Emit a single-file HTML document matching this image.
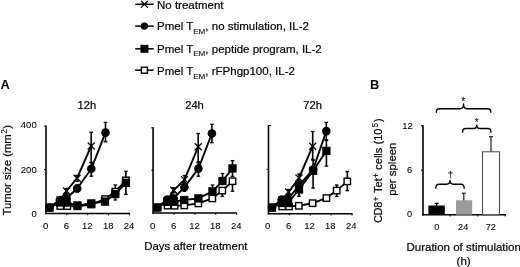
<!DOCTYPE html>
<html><head><meta charset="utf-8"><title>Figure</title>
<style>html,body{margin:0;padding:0;background:#fff}svg{display:block;filter:blur(0.4px)}</style></head>
<body>
<svg width="520" height="267" viewBox="0 0 520 267" font-family='"Liberation Sans", Arial, sans-serif' fill="#000">
<style>text{stroke:#000;stroke-width:0.2px}tspan[font-size]{stroke-width:0.08px}.s{stroke-width:0.08px}.b{stroke-width:0}</style>
<rect width="520" height="267" fill="#fff"/>
<line x1="135.20" y1="4.30" x2="153.70" y2="4.30" stroke="#000" stroke-width="1.5" stroke-linecap="butt"/>
<line x1="135.20" y1="26.10" x2="153.70" y2="26.10" stroke="#000" stroke-width="1.5" stroke-linecap="butt"/>
<line x1="135.20" y1="48.80" x2="153.70" y2="48.80" stroke="#000" stroke-width="1.5" stroke-linecap="butt"/>
<line x1="135.20" y1="70.20" x2="153.70" y2="70.20" stroke="#000" stroke-width="1.5" stroke-linecap="butt"/>
<line x1="141.10" y1="1.00" x2="147.70" y2="7.60" stroke="#000" stroke-width="1.25" stroke-linecap="butt"/>
<line x1="141.10" y1="7.60" x2="147.70" y2="1.00" stroke="#000" stroke-width="1.25" stroke-linecap="butt"/>
<line x1="141.10" y1="4.30" x2="147.70" y2="4.30" stroke="#000" stroke-width="1.25" stroke-linecap="butt"/>
<circle cx="144.40" cy="26.10" r="3.7" fill="#000"/>
<rect x="140.40" y="44.80" width="8.0" height="8.0" fill="#000"/>
<rect x="141.40" y="67.20" width="6.0" height="6.0" fill="#fff" stroke="#000" stroke-width="1.4"/>
<text x="157.00" y="8.50" font-size="11.5" text-anchor="start" font-weight="normal" >No treatment</text>
<text x="157.00" y="30.30" font-size="11.5" text-anchor="start" font-weight="normal" >Pmel T<tspan font-size="8.1" dy="3.9">EM</tspan><tspan dy="-3.9">, no stimulation, IL-2</tspan></text>
<text x="157.00" y="52.50" font-size="11.5" text-anchor="start" font-weight="normal" >Pmel T<tspan font-size="8.1" dy="3.9">EM</tspan><tspan dy="-3.9">, peptide program, IL-2</tspan></text>
<text x="157.00" y="74.90" font-size="11.5" text-anchor="start" font-weight="normal" >Pmel T<tspan font-size="8.1" dy="3.9">EM</tspan><tspan dy="-3.9">, rFPhgp100, IL-2</tspan></text>
<text x="0.50" y="88.90" font-size="12.9" text-anchor="start" font-weight="bold"  class="b">A</text>
<text x="370.00" y="88.90" font-size="12.9" text-anchor="start" font-weight="bold"  class="b">B</text>
<line x1="46.00" y1="125.60" x2="46.00" y2="214.30" stroke="#000" stroke-width="1.6" stroke-linecap="butt"/>
<line x1="45.20" y1="213.50" x2="130.00" y2="213.50" stroke="#000" stroke-width="1.6" stroke-linecap="butt"/>
<line x1="44.10" y1="169.55" x2="46.00" y2="169.55" stroke="#000" stroke-width="1.0" stroke-linecap="butt"/>
<line x1="44.10" y1="126.10" x2="46.00" y2="126.10" stroke="#000" stroke-width="1.0" stroke-linecap="butt"/>
<line x1="66.88" y1="213.50" x2="66.88" y2="215.30" stroke="#000" stroke-width="1.0" stroke-linecap="butt"/>
<line x1="87.75" y1="213.50" x2="87.75" y2="215.30" stroke="#000" stroke-width="1.0" stroke-linecap="butt"/>
<line x1="108.62" y1="213.50" x2="108.62" y2="215.30" stroke="#000" stroke-width="1.0" stroke-linecap="butt"/>
<line x1="129.50" y1="213.50" x2="129.50" y2="215.30" stroke="#000" stroke-width="1.0" stroke-linecap="butt"/>
<text x="45.60" y="228.70" font-size="9.5" text-anchor="middle" font-weight="normal"  class="s">0</text>
<text x="66.47" y="228.70" font-size="9.5" text-anchor="middle" font-weight="normal"  class="s">6</text>
<text x="87.35" y="228.70" font-size="9.5" text-anchor="middle" font-weight="normal"  class="s">12</text>
<text x="108.22" y="228.70" font-size="9.5" text-anchor="middle" font-weight="normal"  class="s">18</text>
<text x="129.10" y="228.70" font-size="9.5" text-anchor="middle" font-weight="normal"  class="s">24</text>
<text x="86.90" y="109.30" font-size="11.2" text-anchor="middle" font-weight="normal" >12h</text>
<polyline points="60.30,206.10 67.30,206.10 77.40,206.30 91.30,204.50 105.00,199.10 115.30,191.60 125.90,180.40" fill="none" stroke="#000" stroke-width="1.9" stroke-linejoin="round"/>
<polyline points="49.60,207.60 60.00,202.50 66.50,202.60 77.40,205.40 91.30,203.40 105.00,201.60 115.30,194.00 125.90,182.80" fill="none" stroke="#000" stroke-width="1.9" stroke-linejoin="round"/>
<polyline points="49.50,207.50 60.00,200.00 66.50,191.00 77.10,178.20 91.20,146.00" fill="none" stroke="#000" stroke-width="1.9" stroke-linejoin="round"/>
<polyline points="49.50,207.50 60.00,200.00 66.50,198.30 77.20,188.50 91.30,168.80 105.50,132.60" fill="none" stroke="#000" stroke-width="1.9" stroke-linejoin="round"/>
<line x1="115.30" y1="185.00" x2="115.30" y2="200.00" stroke="#000" stroke-width="1.6" stroke-linecap="butt"/>
<line x1="113.50" y1="185.00" x2="117.10" y2="185.00" stroke="#000" stroke-width="1.3" stroke-linecap="butt"/>
<line x1="113.50" y1="200.00" x2="117.10" y2="200.00" stroke="#000" stroke-width="1.3" stroke-linecap="butt"/>
<line x1="125.90" y1="171.30" x2="125.90" y2="194.40" stroke="#000" stroke-width="1.6" stroke-linecap="butt"/>
<line x1="124.10" y1="171.30" x2="127.70" y2="171.30" stroke="#000" stroke-width="1.3" stroke-linecap="butt"/>
<line x1="124.10" y1="194.40" x2="127.70" y2="194.40" stroke="#000" stroke-width="1.3" stroke-linecap="butt"/>
<line x1="66.50" y1="188.50" x2="66.50" y2="193.50" stroke="#000" stroke-width="1.6" stroke-linecap="butt"/>
<line x1="64.70" y1="188.50" x2="68.30" y2="188.50" stroke="#000" stroke-width="1.3" stroke-linecap="butt"/>
<line x1="64.70" y1="193.50" x2="68.30" y2="193.50" stroke="#000" stroke-width="1.3" stroke-linecap="butt"/>
<line x1="77.10" y1="175.40" x2="77.10" y2="181.20" stroke="#000" stroke-width="1.6" stroke-linecap="butt"/>
<line x1="75.30" y1="175.40" x2="78.90" y2="175.40" stroke="#000" stroke-width="1.3" stroke-linecap="butt"/>
<line x1="75.30" y1="181.20" x2="78.90" y2="181.20" stroke="#000" stroke-width="1.3" stroke-linecap="butt"/>
<line x1="91.20" y1="132.20" x2="91.20" y2="162.50" stroke="#000" stroke-width="1.6" stroke-linecap="butt"/>
<line x1="89.40" y1="132.20" x2="93.00" y2="132.20" stroke="#000" stroke-width="1.3" stroke-linecap="butt"/>
<line x1="89.40" y1="162.50" x2="93.00" y2="162.50" stroke="#000" stroke-width="1.3" stroke-linecap="butt"/>
<line x1="66.50" y1="195.30" x2="66.50" y2="201.30" stroke="#000" stroke-width="1.6" stroke-linecap="butt"/>
<line x1="64.70" y1="195.30" x2="68.30" y2="195.30" stroke="#000" stroke-width="1.3" stroke-linecap="butt"/>
<line x1="64.70" y1="201.30" x2="68.30" y2="201.30" stroke="#000" stroke-width="1.3" stroke-linecap="butt"/>
<line x1="77.20" y1="185.00" x2="77.20" y2="192.00" stroke="#000" stroke-width="1.6" stroke-linecap="butt"/>
<line x1="75.40" y1="185.00" x2="79.00" y2="185.00" stroke="#000" stroke-width="1.3" stroke-linecap="butt"/>
<line x1="75.40" y1="192.00" x2="79.00" y2="192.00" stroke="#000" stroke-width="1.3" stroke-linecap="butt"/>
<line x1="91.30" y1="162.50" x2="91.30" y2="176.20" stroke="#000" stroke-width="1.6" stroke-linecap="butt"/>
<line x1="89.50" y1="162.50" x2="93.10" y2="162.50" stroke="#000" stroke-width="1.3" stroke-linecap="butt"/>
<line x1="89.50" y1="176.20" x2="93.10" y2="176.20" stroke="#000" stroke-width="1.3" stroke-linecap="butt"/>
<line x1="105.50" y1="122.40" x2="105.50" y2="141.80" stroke="#000" stroke-width="1.6" stroke-linecap="butt"/>
<line x1="103.70" y1="122.40" x2="107.30" y2="122.40" stroke="#000" stroke-width="1.3" stroke-linecap="butt"/>
<line x1="103.70" y1="141.80" x2="107.30" y2="141.80" stroke="#000" stroke-width="1.3" stroke-linecap="butt"/>
<rect x="57.10" y="202.90" width="6.4" height="6.4" fill="#fff" stroke="#000" stroke-width="1.4"/>
<rect x="64.10" y="202.90" width="6.4" height="6.4" fill="#fff" stroke="#000" stroke-width="1.4"/>
<rect x="74.20" y="203.10" width="6.4" height="6.4" fill="#fff" stroke="#000" stroke-width="1.4"/>
<rect x="88.10" y="201.30" width="6.4" height="6.4" fill="#fff" stroke="#000" stroke-width="1.4"/>
<rect x="101.80" y="195.90" width="6.4" height="6.4" fill="#fff" stroke="#000" stroke-width="1.4"/>
<rect x="112.10" y="188.40" width="6.4" height="6.4" fill="#fff" stroke="#000" stroke-width="1.4"/>
<rect x="122.70" y="177.20" width="6.4" height="6.4" fill="#fff" stroke="#000" stroke-width="1.4"/>
<rect x="45.45" y="203.45" width="8.3" height="8.3" fill="#000"/>
<rect x="55.85" y="198.35" width="8.3" height="8.3" fill="#000"/>
<rect x="62.35" y="198.45" width="8.3" height="8.3" fill="#000"/>
<rect x="73.25" y="201.25" width="8.3" height="8.3" fill="#000"/>
<rect x="87.15" y="199.25" width="8.3" height="8.3" fill="#000"/>
<rect x="100.85" y="197.45" width="8.3" height="8.3" fill="#000"/>
<rect x="111.15" y="189.85" width="8.3" height="8.3" fill="#000"/>
<rect x="121.75" y="178.65" width="8.3" height="8.3" fill="#000"/>
<line x1="46.00" y1="204.00" x2="53.00" y2="211.00" stroke="#000" stroke-width="1.3" stroke-linecap="butt"/>
<line x1="46.00" y1="211.00" x2="53.00" y2="204.00" stroke="#000" stroke-width="1.3" stroke-linecap="butt"/>
<line x1="56.50" y1="196.50" x2="63.50" y2="203.50" stroke="#000" stroke-width="1.3" stroke-linecap="butt"/>
<line x1="56.50" y1="203.50" x2="63.50" y2="196.50" stroke="#000" stroke-width="1.3" stroke-linecap="butt"/>
<line x1="63.00" y1="187.50" x2="70.00" y2="194.50" stroke="#000" stroke-width="1.3" stroke-linecap="butt"/>
<line x1="63.00" y1="194.50" x2="70.00" y2="187.50" stroke="#000" stroke-width="1.3" stroke-linecap="butt"/>
<line x1="73.60" y1="174.70" x2="80.60" y2="181.70" stroke="#000" stroke-width="1.3" stroke-linecap="butt"/>
<line x1="73.60" y1="181.70" x2="80.60" y2="174.70" stroke="#000" stroke-width="1.3" stroke-linecap="butt"/>
<line x1="87.70" y1="142.50" x2="94.70" y2="149.50" stroke="#000" stroke-width="1.3" stroke-linecap="butt"/>
<line x1="87.70" y1="149.50" x2="94.70" y2="142.50" stroke="#000" stroke-width="1.3" stroke-linecap="butt"/>
<circle cx="49.50" cy="207.50" r="4.3" fill="#000"/>
<circle cx="60.00" cy="200.00" r="4.3" fill="#000"/>
<circle cx="66.50" cy="198.30" r="4.3" fill="#000"/>
<circle cx="77.20" cy="188.50" r="4.3" fill="#000"/>
<circle cx="91.30" cy="168.80" r="4.3" fill="#000"/>
<circle cx="105.50" cy="132.60" r="4.3" fill="#000"/>
<line x1="153.10" y1="127.30" x2="153.10" y2="213.80" stroke="#000" stroke-width="1.6" stroke-linecap="butt"/>
<line x1="152.30" y1="213.00" x2="237.10" y2="213.00" stroke="#000" stroke-width="1.6" stroke-linecap="butt"/>
<line x1="151.20" y1="170.15" x2="153.10" y2="170.15" stroke="#000" stroke-width="1.0" stroke-linecap="butt"/>
<line x1="151.20" y1="127.80" x2="153.10" y2="127.80" stroke="#000" stroke-width="1.0" stroke-linecap="butt"/>
<line x1="173.97" y1="213.00" x2="173.97" y2="214.80" stroke="#000" stroke-width="1.0" stroke-linecap="butt"/>
<line x1="194.85" y1="213.00" x2="194.85" y2="214.80" stroke="#000" stroke-width="1.0" stroke-linecap="butt"/>
<line x1="215.72" y1="213.00" x2="215.72" y2="214.80" stroke="#000" stroke-width="1.0" stroke-linecap="butt"/>
<line x1="236.60" y1="213.00" x2="236.60" y2="214.80" stroke="#000" stroke-width="1.0" stroke-linecap="butt"/>
<text x="152.70" y="228.70" font-size="9.5" text-anchor="middle" font-weight="normal"  class="s">0</text>
<text x="173.57" y="228.70" font-size="9.5" text-anchor="middle" font-weight="normal"  class="s">6</text>
<text x="194.45" y="228.70" font-size="9.5" text-anchor="middle" font-weight="normal"  class="s">12</text>
<text x="215.32" y="228.70" font-size="9.5" text-anchor="middle" font-weight="normal"  class="s">18</text>
<text x="236.20" y="228.70" font-size="9.5" text-anchor="middle" font-weight="normal"  class="s">24</text>
<text x="194.50" y="109.30" font-size="11.2" text-anchor="middle" font-weight="normal" >24h</text>
<polyline points="167.60,205.60 174.60,205.70 184.30,205.40 198.30,203.40 212.30,198.40 222.30,190.60 232.50,181.20" fill="none" stroke="#000" stroke-width="1.9" stroke-linejoin="round"/>
<polyline points="157.30,207.50 167.30,201.80 173.60,201.80 184.20,200.00 198.40,198.40 212.50,191.30 222.50,181.00 232.50,168.40" fill="none" stroke="#000" stroke-width="1.9" stroke-linejoin="round"/>
<polyline points="157.30,207.50 167.30,200.50 173.80,190.30 184.50,179.60 198.20,146.80" fill="none" stroke="#000" stroke-width="1.9" stroke-linejoin="round"/>
<polyline points="157.30,207.50 167.30,199.60 173.60,198.30 184.40,187.30 198.40,168.60 211.90,133.50" fill="none" stroke="#000" stroke-width="1.9" stroke-linejoin="round"/>
<line x1="222.30" y1="190.60" x2="222.30" y2="196.20" stroke="#000" stroke-width="1.6" stroke-linecap="butt"/>
<line x1="220.50" y1="190.60" x2="224.10" y2="190.60" stroke="#000" stroke-width="1.3" stroke-linecap="butt"/>
<line x1="220.50" y1="196.20" x2="224.10" y2="196.20" stroke="#000" stroke-width="1.3" stroke-linecap="butt"/>
<line x1="232.50" y1="181.20" x2="232.50" y2="191.20" stroke="#000" stroke-width="1.6" stroke-linecap="butt"/>
<line x1="230.70" y1="181.20" x2="234.30" y2="181.20" stroke="#000" stroke-width="1.3" stroke-linecap="butt"/>
<line x1="230.70" y1="191.20" x2="234.30" y2="191.20" stroke="#000" stroke-width="1.3" stroke-linecap="butt"/>
<line x1="212.50" y1="185.00" x2="212.50" y2="191.30" stroke="#000" stroke-width="1.6" stroke-linecap="butt"/>
<line x1="210.70" y1="185.00" x2="214.30" y2="185.00" stroke="#000" stroke-width="1.3" stroke-linecap="butt"/>
<line x1="210.70" y1="191.30" x2="214.30" y2="191.30" stroke="#000" stroke-width="1.3" stroke-linecap="butt"/>
<line x1="222.50" y1="173.50" x2="222.50" y2="181.00" stroke="#000" stroke-width="1.6" stroke-linecap="butt"/>
<line x1="220.70" y1="173.50" x2="224.30" y2="173.50" stroke="#000" stroke-width="1.3" stroke-linecap="butt"/>
<line x1="220.70" y1="181.00" x2="224.30" y2="181.00" stroke="#000" stroke-width="1.3" stroke-linecap="butt"/>
<line x1="232.50" y1="160.60" x2="232.50" y2="176.40" stroke="#000" stroke-width="1.6" stroke-linecap="butt"/>
<line x1="230.70" y1="160.60" x2="234.30" y2="160.60" stroke="#000" stroke-width="1.3" stroke-linecap="butt"/>
<line x1="230.70" y1="176.40" x2="234.30" y2="176.40" stroke="#000" stroke-width="1.3" stroke-linecap="butt"/>
<line x1="173.80" y1="187.80" x2="173.80" y2="192.80" stroke="#000" stroke-width="1.6" stroke-linecap="butt"/>
<line x1="172.00" y1="187.80" x2="175.60" y2="187.80" stroke="#000" stroke-width="1.3" stroke-linecap="butt"/>
<line x1="172.00" y1="192.80" x2="175.60" y2="192.80" stroke="#000" stroke-width="1.3" stroke-linecap="butt"/>
<line x1="184.50" y1="175.60" x2="184.50" y2="182.60" stroke="#000" stroke-width="1.6" stroke-linecap="butt"/>
<line x1="182.70" y1="175.60" x2="186.30" y2="175.60" stroke="#000" stroke-width="1.3" stroke-linecap="butt"/>
<line x1="182.70" y1="182.60" x2="186.30" y2="182.60" stroke="#000" stroke-width="1.3" stroke-linecap="butt"/>
<line x1="198.20" y1="133.50" x2="198.20" y2="162.80" stroke="#000" stroke-width="1.6" stroke-linecap="butt"/>
<line x1="196.40" y1="133.50" x2="200.00" y2="133.50" stroke="#000" stroke-width="1.3" stroke-linecap="butt"/>
<line x1="196.40" y1="162.80" x2="200.00" y2="162.80" stroke="#000" stroke-width="1.3" stroke-linecap="butt"/>
<line x1="184.40" y1="183.30" x2="184.40" y2="191.30" stroke="#000" stroke-width="1.6" stroke-linecap="butt"/>
<line x1="182.60" y1="183.30" x2="186.20" y2="183.30" stroke="#000" stroke-width="1.3" stroke-linecap="butt"/>
<line x1="182.60" y1="191.30" x2="186.20" y2="191.30" stroke="#000" stroke-width="1.3" stroke-linecap="butt"/>
<line x1="198.40" y1="161.60" x2="198.40" y2="176.20" stroke="#000" stroke-width="1.6" stroke-linecap="butt"/>
<line x1="196.60" y1="161.60" x2="200.20" y2="161.60" stroke="#000" stroke-width="1.3" stroke-linecap="butt"/>
<line x1="196.60" y1="176.20" x2="200.20" y2="176.20" stroke="#000" stroke-width="1.3" stroke-linecap="butt"/>
<line x1="211.90" y1="124.30" x2="211.90" y2="142.70" stroke="#000" stroke-width="1.6" stroke-linecap="butt"/>
<line x1="210.10" y1="124.30" x2="213.70" y2="124.30" stroke="#000" stroke-width="1.3" stroke-linecap="butt"/>
<line x1="210.10" y1="142.70" x2="213.70" y2="142.70" stroke="#000" stroke-width="1.3" stroke-linecap="butt"/>
<rect x="164.40" y="202.40" width="6.4" height="6.4" fill="#fff" stroke="#000" stroke-width="1.4"/>
<rect x="171.40" y="202.50" width="6.4" height="6.4" fill="#fff" stroke="#000" stroke-width="1.4"/>
<rect x="181.10" y="202.20" width="6.4" height="6.4" fill="#fff" stroke="#000" stroke-width="1.4"/>
<rect x="195.10" y="200.20" width="6.4" height="6.4" fill="#fff" stroke="#000" stroke-width="1.4"/>
<rect x="209.10" y="195.20" width="6.4" height="6.4" fill="#fff" stroke="#000" stroke-width="1.4"/>
<rect x="219.10" y="187.40" width="6.4" height="6.4" fill="#fff" stroke="#000" stroke-width="1.4"/>
<rect x="229.30" y="178.00" width="6.4" height="6.4" fill="#fff" stroke="#000" stroke-width="1.4"/>
<rect x="153.15" y="203.35" width="8.3" height="8.3" fill="#000"/>
<rect x="163.15" y="197.65" width="8.3" height="8.3" fill="#000"/>
<rect x="169.45" y="197.65" width="8.3" height="8.3" fill="#000"/>
<rect x="180.05" y="195.85" width="8.3" height="8.3" fill="#000"/>
<rect x="194.25" y="194.25" width="8.3" height="8.3" fill="#000"/>
<rect x="208.35" y="187.15" width="8.3" height="8.3" fill="#000"/>
<rect x="218.35" y="176.85" width="8.3" height="8.3" fill="#000"/>
<rect x="228.35" y="164.25" width="8.3" height="8.3" fill="#000"/>
<line x1="153.80" y1="204.00" x2="160.80" y2="211.00" stroke="#000" stroke-width="1.3" stroke-linecap="butt"/>
<line x1="153.80" y1="211.00" x2="160.80" y2="204.00" stroke="#000" stroke-width="1.3" stroke-linecap="butt"/>
<line x1="163.80" y1="197.00" x2="170.80" y2="204.00" stroke="#000" stroke-width="1.3" stroke-linecap="butt"/>
<line x1="163.80" y1="204.00" x2="170.80" y2="197.00" stroke="#000" stroke-width="1.3" stroke-linecap="butt"/>
<line x1="170.30" y1="186.80" x2="177.30" y2="193.80" stroke="#000" stroke-width="1.3" stroke-linecap="butt"/>
<line x1="170.30" y1="193.80" x2="177.30" y2="186.80" stroke="#000" stroke-width="1.3" stroke-linecap="butt"/>
<line x1="181.00" y1="176.10" x2="188.00" y2="183.10" stroke="#000" stroke-width="1.3" stroke-linecap="butt"/>
<line x1="181.00" y1="183.10" x2="188.00" y2="176.10" stroke="#000" stroke-width="1.3" stroke-linecap="butt"/>
<line x1="194.70" y1="143.30" x2="201.70" y2="150.30" stroke="#000" stroke-width="1.3" stroke-linecap="butt"/>
<line x1="194.70" y1="150.30" x2="201.70" y2="143.30" stroke="#000" stroke-width="1.3" stroke-linecap="butt"/>
<circle cx="157.30" cy="207.50" r="4.3" fill="#000"/>
<circle cx="167.30" cy="199.60" r="4.3" fill="#000"/>
<circle cx="173.60" cy="198.30" r="4.3" fill="#000"/>
<circle cx="184.40" cy="187.30" r="4.3" fill="#000"/>
<circle cx="198.40" cy="168.60" r="4.3" fill="#000"/>
<circle cx="211.90" cy="133.50" r="4.3" fill="#000"/>
<line x1="268.50" y1="125.00" x2="268.50" y2="214.50" stroke="#000" stroke-width="1.6" stroke-linecap="butt"/>
<line x1="267.70" y1="213.70" x2="352.50" y2="213.70" stroke="#000" stroke-width="1.6" stroke-linecap="butt"/>
<line x1="266.60" y1="169.35" x2="268.50" y2="169.35" stroke="#000" stroke-width="1.0" stroke-linecap="butt"/>
<line x1="268.50" y1="125.50" x2="271.10" y2="125.50" stroke="#000" stroke-width="1.0" stroke-linecap="butt"/>
<line x1="289.38" y1="213.70" x2="289.38" y2="215.50" stroke="#000" stroke-width="1.0" stroke-linecap="butt"/>
<line x1="310.25" y1="213.70" x2="310.25" y2="215.50" stroke="#000" stroke-width="1.0" stroke-linecap="butt"/>
<line x1="331.12" y1="213.70" x2="331.12" y2="215.50" stroke="#000" stroke-width="1.0" stroke-linecap="butt"/>
<line x1="352.00" y1="213.70" x2="352.00" y2="215.50" stroke="#000" stroke-width="1.0" stroke-linecap="butt"/>
<text x="267.70" y="228.70" font-size="9.5" text-anchor="middle" font-weight="normal"  class="s">0</text>
<text x="288.57" y="228.70" font-size="9.5" text-anchor="middle" font-weight="normal"  class="s">6</text>
<text x="309.45" y="228.70" font-size="9.5" text-anchor="middle" font-weight="normal"  class="s">12</text>
<text x="330.32" y="228.70" font-size="9.5" text-anchor="middle" font-weight="normal"  class="s">18</text>
<text x="351.20" y="228.70" font-size="9.5" text-anchor="middle" font-weight="normal"  class="s">24</text>
<text x="312.70" y="109.30" font-size="11.2" text-anchor="middle" font-weight="normal" >72h</text>
<polyline points="282.20,206.40 289.00,206.40 298.80,205.80 312.60,203.20 326.40,198.10 336.70,190.60 347.30,181.40" fill="none" stroke="#000" stroke-width="1.9" stroke-linejoin="round"/>
<polyline points="272.00,207.60 281.80,203.00 288.00,203.00 299.00,189.50 313.10,170.80 326.40,150.90" fill="none" stroke="#000" stroke-width="1.9" stroke-linejoin="round"/>
<polyline points="272.00,207.50 281.80,200.00 288.60,192.00 299.00,178.00 312.70,146.20" fill="none" stroke="#000" stroke-width="1.9" stroke-linejoin="round"/>
<polyline points="272.00,207.50 281.80,199.50 288.00,199.00 299.00,185.50 313.10,169.50 326.30,131.10" fill="none" stroke="#000" stroke-width="1.9" stroke-linejoin="round"/>
<line x1="336.70" y1="185.00" x2="336.70" y2="196.50" stroke="#000" stroke-width="1.6" stroke-linecap="butt"/>
<line x1="334.90" y1="185.00" x2="338.50" y2="185.00" stroke="#000" stroke-width="1.3" stroke-linecap="butt"/>
<line x1="334.90" y1="196.50" x2="338.50" y2="196.50" stroke="#000" stroke-width="1.3" stroke-linecap="butt"/>
<line x1="347.30" y1="171.50" x2="347.30" y2="190.60" stroke="#000" stroke-width="1.6" stroke-linecap="butt"/>
<line x1="345.50" y1="171.50" x2="349.10" y2="171.50" stroke="#000" stroke-width="1.3" stroke-linecap="butt"/>
<line x1="345.50" y1="190.60" x2="349.10" y2="190.60" stroke="#000" stroke-width="1.3" stroke-linecap="butt"/>
<line x1="299.00" y1="181.50" x2="299.00" y2="196.30" stroke="#000" stroke-width="1.6" stroke-linecap="butt"/>
<line x1="297.20" y1="181.50" x2="300.80" y2="181.50" stroke="#000" stroke-width="1.3" stroke-linecap="butt"/>
<line x1="297.20" y1="196.30" x2="300.80" y2="196.30" stroke="#000" stroke-width="1.3" stroke-linecap="butt"/>
<line x1="313.10" y1="160.30" x2="313.10" y2="188.10" stroke="#000" stroke-width="1.6" stroke-linecap="butt"/>
<line x1="311.30" y1="160.30" x2="314.90" y2="160.30" stroke="#000" stroke-width="1.3" stroke-linecap="butt"/>
<line x1="311.30" y1="188.10" x2="314.90" y2="188.10" stroke="#000" stroke-width="1.3" stroke-linecap="butt"/>
<line x1="326.40" y1="139.90" x2="326.40" y2="166.10" stroke="#000" stroke-width="1.6" stroke-linecap="butt"/>
<line x1="324.60" y1="139.90" x2="328.20" y2="139.90" stroke="#000" stroke-width="1.3" stroke-linecap="butt"/>
<line x1="324.60" y1="166.10" x2="328.20" y2="166.10" stroke="#000" stroke-width="1.3" stroke-linecap="butt"/>
<line x1="288.60" y1="189.50" x2="288.60" y2="194.50" stroke="#000" stroke-width="1.6" stroke-linecap="butt"/>
<line x1="286.80" y1="189.50" x2="290.40" y2="189.50" stroke="#000" stroke-width="1.3" stroke-linecap="butt"/>
<line x1="286.80" y1="194.50" x2="290.40" y2="194.50" stroke="#000" stroke-width="1.3" stroke-linecap="butt"/>
<line x1="299.00" y1="174.00" x2="299.00" y2="181.00" stroke="#000" stroke-width="1.6" stroke-linecap="butt"/>
<line x1="297.20" y1="174.00" x2="300.80" y2="174.00" stroke="#000" stroke-width="1.3" stroke-linecap="butt"/>
<line x1="297.20" y1="181.00" x2="300.80" y2="181.00" stroke="#000" stroke-width="1.3" stroke-linecap="butt"/>
<line x1="312.70" y1="131.50" x2="312.70" y2="159.20" stroke="#000" stroke-width="1.6" stroke-linecap="butt"/>
<line x1="310.90" y1="131.50" x2="314.50" y2="131.50" stroke="#000" stroke-width="1.3" stroke-linecap="butt"/>
<line x1="310.90" y1="159.20" x2="314.50" y2="159.20" stroke="#000" stroke-width="1.3" stroke-linecap="butt"/>
<line x1="326.30" y1="122.40" x2="326.30" y2="140.40" stroke="#000" stroke-width="1.6" stroke-linecap="butt"/>
<line x1="324.50" y1="122.40" x2="328.10" y2="122.40" stroke="#000" stroke-width="1.3" stroke-linecap="butt"/>
<line x1="324.50" y1="140.40" x2="328.10" y2="140.40" stroke="#000" stroke-width="1.3" stroke-linecap="butt"/>
<rect x="279.00" y="203.20" width="6.4" height="6.4" fill="#fff" stroke="#000" stroke-width="1.4"/>
<rect x="285.80" y="203.20" width="6.4" height="6.4" fill="#fff" stroke="#000" stroke-width="1.4"/>
<rect x="295.60" y="202.60" width="6.4" height="6.4" fill="#fff" stroke="#000" stroke-width="1.4"/>
<rect x="309.40" y="200.00" width="6.4" height="6.4" fill="#fff" stroke="#000" stroke-width="1.4"/>
<rect x="323.20" y="194.90" width="6.4" height="6.4" fill="#fff" stroke="#000" stroke-width="1.4"/>
<rect x="333.50" y="187.40" width="6.4" height="6.4" fill="#fff" stroke="#000" stroke-width="1.4"/>
<rect x="344.10" y="178.20" width="6.4" height="6.4" fill="#fff" stroke="#000" stroke-width="1.4"/>
<rect x="267.85" y="203.45" width="8.3" height="8.3" fill="#000"/>
<rect x="277.65" y="198.85" width="8.3" height="8.3" fill="#000"/>
<rect x="283.85" y="198.85" width="8.3" height="8.3" fill="#000"/>
<rect x="294.85" y="185.35" width="8.3" height="8.3" fill="#000"/>
<rect x="308.95" y="166.65" width="8.3" height="8.3" fill="#000"/>
<rect x="322.25" y="146.75" width="8.3" height="8.3" fill="#000"/>
<line x1="268.50" y1="204.00" x2="275.50" y2="211.00" stroke="#000" stroke-width="1.3" stroke-linecap="butt"/>
<line x1="268.50" y1="211.00" x2="275.50" y2="204.00" stroke="#000" stroke-width="1.3" stroke-linecap="butt"/>
<line x1="278.30" y1="196.50" x2="285.30" y2="203.50" stroke="#000" stroke-width="1.3" stroke-linecap="butt"/>
<line x1="278.30" y1="203.50" x2="285.30" y2="196.50" stroke="#000" stroke-width="1.3" stroke-linecap="butt"/>
<line x1="285.10" y1="188.50" x2="292.10" y2="195.50" stroke="#000" stroke-width="1.3" stroke-linecap="butt"/>
<line x1="285.10" y1="195.50" x2="292.10" y2="188.50" stroke="#000" stroke-width="1.3" stroke-linecap="butt"/>
<line x1="295.50" y1="174.50" x2="302.50" y2="181.50" stroke="#000" stroke-width="1.3" stroke-linecap="butt"/>
<line x1="295.50" y1="181.50" x2="302.50" y2="174.50" stroke="#000" stroke-width="1.3" stroke-linecap="butt"/>
<line x1="309.20" y1="142.70" x2="316.20" y2="149.70" stroke="#000" stroke-width="1.3" stroke-linecap="butt"/>
<line x1="309.20" y1="149.70" x2="316.20" y2="142.70" stroke="#000" stroke-width="1.3" stroke-linecap="butt"/>
<circle cx="272.00" cy="207.50" r="4.3" fill="#000"/>
<circle cx="281.80" cy="199.50" r="4.3" fill="#000"/>
<circle cx="288.00" cy="199.00" r="4.3" fill="#000"/>
<circle cx="299.00" cy="185.50" r="4.3" fill="#000"/>
<circle cx="313.10" cy="169.50" r="4.3" fill="#000"/>
<circle cx="326.30" cy="131.10" r="4.3" fill="#000"/>
<text x="36.70" y="217.30" font-size="9.5" text-anchor="end" font-weight="normal"  class="s">0</text>
<text x="36.70" y="173.20" font-size="9.5" text-anchor="end" font-weight="normal"  class="s">200</text>
<text x="36.70" y="128.30" font-size="9.5" text-anchor="end" font-weight="normal"  class="s">400</text>
<text transform="translate(10.9,215.4) rotate(-90)" font-size="11.3">Tumor size (mm<tspan font-size="8.2" dy="-3.8" dx="0.5">2</tspan><tspan dy="3.8" dx="0.5">)</tspan></text>
<text x="144.20" y="249.60" font-size="11.4" text-anchor="start" font-weight="normal" >Days after treatment</text>
<line x1="423.00" y1="125.30" x2="423.00" y2="215.60" stroke="#000" stroke-width="1.6" stroke-linecap="butt"/>
<line x1="422.20" y1="214.70" x2="505.80" y2="214.70" stroke="#000" stroke-width="1.6" stroke-linecap="butt"/>
<line x1="421.00" y1="125.70" x2="423.00" y2="125.70" stroke="#000" stroke-width="1.0" stroke-linecap="butt"/>
<line x1="421.00" y1="170.20" x2="423.00" y2="170.20" stroke="#000" stroke-width="1.0" stroke-linecap="butt"/>
<line x1="450.30" y1="214.70" x2="450.30" y2="216.50" stroke="#000" stroke-width="1.0" stroke-linecap="butt"/>
<line x1="477.70" y1="214.70" x2="477.70" y2="216.50" stroke="#000" stroke-width="1.0" stroke-linecap="butt"/>
<line x1="505.20" y1="214.70" x2="505.20" y2="216.50" stroke="#000" stroke-width="1.0" stroke-linecap="butt"/>
<line x1="436.70" y1="203.30" x2="436.70" y2="206.00" stroke="#000" stroke-width="1.25" stroke-linecap="butt"/>
<line x1="434.70" y1="203.30" x2="438.70" y2="203.30" stroke="#000" stroke-width="1.2" stroke-linecap="butt"/>
<rect x="428.40" y="205.50" width="16.40" height="9.20" fill="#000"/>
<line x1="463.80" y1="193.20" x2="463.80" y2="201.00" stroke="#222" stroke-width="1.25" stroke-linecap="butt"/>
<line x1="461.80" y1="193.20" x2="465.80" y2="193.20" stroke="#222" stroke-width="1.2" stroke-linecap="butt"/>
<rect x="456.00" y="200.30" width="16.20" height="14.40" fill="#999"/>
<line x1="491.00" y1="136.70" x2="491.00" y2="152.00" stroke="#222" stroke-width="1.25" stroke-linecap="butt"/>
<line x1="489.00" y1="136.70" x2="493.00" y2="136.70" stroke="#222" stroke-width="1.2" stroke-linecap="butt"/>
<rect x="482.50" y="151.80" width="17.00" height="62.90" fill="#fff" stroke="#444" stroke-width="1"/>
<text x="412.90" y="129.30" font-size="9.5" text-anchor="end" font-weight="normal"  class="s">12</text>
<text x="412.20" y="173.30" font-size="9.3" text-anchor="end" font-weight="normal"  class="s">6</text>
<text x="412.00" y="217.30" font-size="9.2" text-anchor="end" font-weight="normal"  class="s">0</text>
<text x="436.70" y="229.70" font-size="9.2" text-anchor="middle" font-weight="normal"  class="s">0</text>
<text x="463.20" y="229.70" font-size="9.2" text-anchor="middle" font-weight="normal"  class="s">24</text>
<text x="490.80" y="229.70" font-size="9.2" text-anchor="middle" font-weight="normal"  class="s">72</text>
<text x="463.70" y="251.20" font-size="11.5" text-anchor="middle" font-weight="normal" >Duration of stimulation</text>
<text x="463.60" y="264.80" font-size="11.5" text-anchor="middle" font-weight="normal" >(h)</text>
<text transform="translate(381.8,223.1) rotate(-90)" font-size="11.1"><tspan letter-spacing="-0.4">CD</tspan>8<tspan font-size="8.3" dy="-2.4" dx="0.5">+</tspan><tspan dy="2.4" dx="0.5"> Tet</tspan><tspan font-size="8.3" dy="-2.4" dx="0.2">+</tspan><tspan dy="2.4" dx="0.2"> cells (10</tspan><tspan font-size="8.3" dy="-3.5" dx="0.9">5</tspan><tspan dy="3.5" dx="0.9">)</tspan></text>
<text transform="translate(396.0,195.8) rotate(-90)" font-size="11.4">per spleen</text>
<path d="M436.30,112.20 Q436.30,108.70 439.50,108.70 L460.15,108.70 Q463.55,108.70 463.55,104.00 Q463.55,108.70 466.95,108.70 L487.60,108.70 Q490.80,108.70 490.80,112.20" fill="none" stroke="#000" stroke-width="1.35" stroke-linecap="round" stroke-linejoin="round"/>
<path d="M462.60,132.20 Q462.60,128.50 465.80,128.50 L473.40,128.50 Q476.80,128.50 476.80,125.00 Q476.80,128.50 480.20,128.50 L487.80,128.50 Q491.00,128.50 491.00,132.20" fill="none" stroke="#000" stroke-width="1.35" stroke-linecap="round" stroke-linejoin="round"/>
<path d="M435.80,188.20 Q435.80,184.20 439.00,184.20 L446.60,184.20 Q450.00,184.20 450.00,180.50 Q450.00,184.20 453.40,184.20 L461.00,184.20 Q464.20,184.20 464.20,188.20" fill="none" stroke="#000" stroke-width="1.35" stroke-linecap="round" stroke-linejoin="round"/>
<text x="463.20" y="105.40" font-size="10" text-anchor="middle" font-weight="normal"  class="s">*</text>
<text x="476.60" y="125.70" font-size="10" text-anchor="middle" font-weight="normal"  class="s">*</text>
<text x="450.40" y="177.60" font-size="9.6" text-anchor="middle" font-weight="normal"  class="s">†</text>
</svg>
</body></html>
